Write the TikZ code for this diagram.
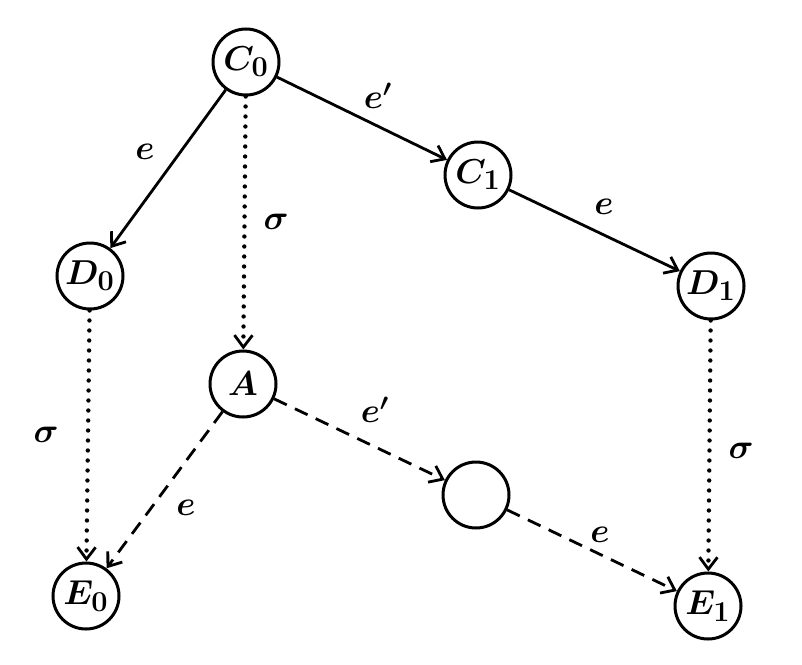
\documentclass[tikz,border=0pt]{standalone}
\usetikzlibrary{arrows.meta}
\begin{document}
\begin{tikzpicture}[x=0.5pt,y=-0.5pt,
  st/.style={circle,draw,line width=1.5pt,minimum size=33pt,inner sep=0pt,font=\fontsize{19}{22}\selectfont\boldmath},
  arr/.style={line width=1.4pt,-{Straight Barb[length=6pt,width=9pt,line width=1.4pt]}},
  dotl/.style={arr,dash pattern=on 0pt off 5pt,line cap=round,line width=2.2pt},
  dashl/.style={arr,dash pattern=on 7pt off 4.5pt},
  lab/.style={font=\fontsize{17}{20}\selectfont\boldmath}]
\useasboundingbox (0,0) rectangle (802,664);
\node[st] (C0) at (246,62) {$C_0$};
\node[st] (C1) at (478,175) {$C_1$};
\node[st] (D0) at (90,276) {$D_0$};
\node[st] (D1) at (711,286) {$D_1$};
\node[st] (A) at (243,384) {$A$};
\node[st] (X) at (476,495) {};
\node[st] (E0) at (86,596) {$E_0$};
\node[st] (E1) at (708,606) {$E_1$};
\draw[arr] (C0) -- (D0);
\draw[arr] (C0) -- (C1);
\draw[arr] (C1) -- (D1);
\draw[dotl] (C0) -- (A);
\draw[dotl] (D0) -- (E0);
\draw[dotl] (D1) -- (E1);
\draw[dashl] (A) -- (E0);
\draw[dashl] (A) -- (X);
\draw[dashl] (X) -- (E1);
\node[lab] (l1) at (145,152) {$e$};
\node[lab] (l2) at (378,96) {$e'$};
\node[lab] (l3) at (276,222) {$\sigma$};
\node[lab] (l4) at (604,207) {$e$};
\node[lab] (l5) at (46,435) {$\sigma$};
\node[lab] (l6) at (375,410) {$e'$};
\node[lab] (l7) at (186,508) {$e$};
\node[lab] (l8) at (600,535) {$e$};
\node[lab] (l9) at (741,451) {$\sigma$};
\end{tikzpicture}
\end{document}
